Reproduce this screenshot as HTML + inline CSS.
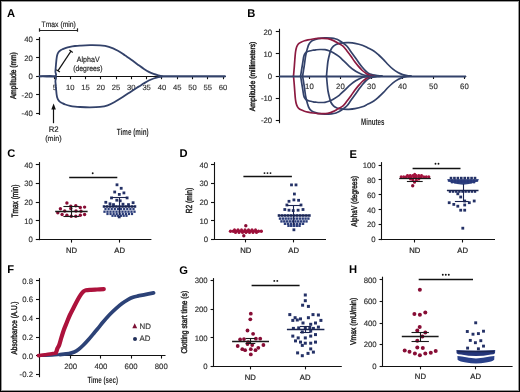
<!DOCTYPE html>
<html><head><meta charset="utf-8"><style>
html,body{margin:0;padding:0;background:#fff;}
#fig{position:relative;width:520px;height:392px;overflow:hidden;background:#fff;}
svg{position:absolute;left:0;top:0;font-family:"Liberation Sans", sans-serif;will-change:transform;text-rendering:geometricPrecision;}
</style></head><body><div id="fig">
<svg width="520" height="392" viewBox="0 0 520 392">
<rect x="0" y="0" width="520" height="392" fill="#fff"/>
<text x="7.1" y="16.9" font-size="11.2" text-anchor="start" fill="#000" font-weight="bold">A</text>
<text x="247.2" y="16.9" font-size="11.2" text-anchor="start" fill="#000" font-weight="bold">B</text>
<text x="7.2" y="157.3" font-size="11.2" text-anchor="start" fill="#000" font-weight="bold">C</text>
<text x="179.6" y="157.3" font-size="11.2" text-anchor="start" fill="#000" font-weight="bold">D</text>
<text x="349.6" y="157.5" font-size="11.2" text-anchor="start" fill="#000" font-weight="bold">E</text>
<text x="7.2" y="273.2" font-size="11.2" text-anchor="start" fill="#000" font-weight="bold">F</text>
<text x="179.2" y="273.5" font-size="11.2" text-anchor="start" fill="#000" font-weight="bold">G</text>
<text x="348.9" y="273.2" font-size="11.2" text-anchor="start" fill="#000" font-weight="bold">H</text>
<line x1="39.5" y1="37.1" x2="39.5" y2="115" stroke="#111" stroke-width="1.2"/>
<line x1="36.1" y1="39.5" x2="39.3" y2="39.5" stroke="#111" stroke-width="1.1"/>
<text x="32.9" y="42.4" font-size="7.8" text-anchor="end" fill="#333" font-weight="normal" stroke="#333" stroke-width="0.15">40</text>
<line x1="36.1" y1="57.5" x2="39.3" y2="57.5" stroke="#111" stroke-width="1.1"/>
<text x="32.9" y="60.8" font-size="7.8" text-anchor="end" fill="#333" font-weight="normal" stroke="#333" stroke-width="0.15">20</text>
<line x1="36.1" y1="76.5" x2="39.3" y2="76.5" stroke="#111" stroke-width="1.1"/>
<text x="32.9" y="79.2" font-size="7.8" text-anchor="end" fill="#333" font-weight="normal" stroke="#333" stroke-width="0.15">0</text>
<line x1="36.1" y1="94.5" x2="39.3" y2="94.5" stroke="#111" stroke-width="1.1"/>
<text x="32.9" y="97.6" font-size="7.8" text-anchor="end" fill="#333" font-weight="normal" stroke="#333" stroke-width="0.15">-20</text>
<line x1="36.1" y1="113.5" x2="39.3" y2="113.5" stroke="#111" stroke-width="1.1"/>
<text x="32.9" y="116" font-size="7.8" text-anchor="end" fill="#333" font-weight="normal" stroke="#333" stroke-width="0.15">-40</text>
<line x1="39.3" y1="76.5" x2="226" y2="76.5" stroke="#111" stroke-width="1.1"/>
<line x1="54.5" y1="76.3" x2="54.5" y2="79.2" stroke="#111" stroke-width="1.1"/>
<text x="54.98" y="89.6" font-size="7.6" text-anchor="middle" fill="#333" font-weight="normal" stroke="#333" stroke-width="0.15">5</text>
<line x1="70.5" y1="76.3" x2="70.5" y2="79.2" stroke="#111" stroke-width="1.1"/>
<text x="70.25" y="89.6" font-size="7.6" text-anchor="middle" fill="#333" font-weight="normal" stroke="#333" stroke-width="0.15">10</text>
<line x1="85.5" y1="76.3" x2="85.5" y2="79.2" stroke="#111" stroke-width="1.1"/>
<text x="85.53" y="89.6" font-size="7.6" text-anchor="middle" fill="#333" font-weight="normal" stroke="#333" stroke-width="0.15">15</text>
<line x1="100.5" y1="76.3" x2="100.5" y2="79.2" stroke="#111" stroke-width="1.1"/>
<text x="100.8" y="89.6" font-size="7.6" text-anchor="middle" fill="#333" font-weight="normal" stroke="#333" stroke-width="0.15">20</text>
<line x1="116.5" y1="76.3" x2="116.5" y2="79.2" stroke="#111" stroke-width="1.1"/>
<text x="116.08" y="89.6" font-size="7.6" text-anchor="middle" fill="#333" font-weight="normal" stroke="#333" stroke-width="0.15">25</text>
<line x1="131.5" y1="76.3" x2="131.5" y2="79.2" stroke="#111" stroke-width="1.1"/>
<text x="131.35" y="89.6" font-size="7.6" text-anchor="middle" fill="#333" font-weight="normal" stroke="#333" stroke-width="0.15">30</text>
<line x1="146.5" y1="76.3" x2="146.5" y2="79.2" stroke="#111" stroke-width="1.1"/>
<text x="146.62" y="89.6" font-size="7.6" text-anchor="middle" fill="#333" font-weight="normal" stroke="#333" stroke-width="0.15">35</text>
<line x1="161.5" y1="76.3" x2="161.5" y2="79.2" stroke="#111" stroke-width="1.1"/>
<text x="161.9" y="89.6" font-size="7.6" text-anchor="middle" fill="#333" font-weight="normal" stroke="#333" stroke-width="0.15">40</text>
<line x1="177.5" y1="76.3" x2="177.5" y2="79.2" stroke="#111" stroke-width="1.1"/>
<text x="177.18" y="89.6" font-size="7.6" text-anchor="middle" fill="#333" font-weight="normal" stroke="#333" stroke-width="0.15">45</text>
<line x1="192.5" y1="76.3" x2="192.5" y2="79.2" stroke="#111" stroke-width="1.1"/>
<text x="192.45" y="89.6" font-size="7.6" text-anchor="middle" fill="#333" font-weight="normal" stroke="#333" stroke-width="0.15">50</text>
<line x1="207.5" y1="76.3" x2="207.5" y2="79.2" stroke="#111" stroke-width="1.1"/>
<text x="207.73" y="89.6" font-size="7.6" text-anchor="middle" fill="#333" font-weight="normal" stroke="#333" stroke-width="0.15">55</text>
<line x1="223.5" y1="76.3" x2="223.5" y2="79.2" stroke="#111" stroke-width="1.1"/>
<text x="223" y="89.6" font-size="7.6" text-anchor="middle" fill="#333" font-weight="normal" stroke="#333" stroke-width="0.15">60</text>
<path d="M39.5,76.3 C42.05,76.3 52.15,77.13 54.8,76.3 C57.45,75.47 55.2,73.3 55.4,71.3 C55.6,69.3 55.8,66.47 56,64.3 C56.2,62.13 56.38,59.88 56.6,58.3 C56.82,56.72 56.98,55.8 57.3,54.8 C57.62,53.8 58.05,52.98 58.5,52.3 C58.95,51.62 59.33,51.2 60,50.7 C60.67,50.2 61.62,49.73 62.5,49.3 C63.38,48.87 64.05,48.52 65.3,48.1 C66.55,47.68 68.38,47.15 70,46.8 C71.62,46.45 73.33,46.2 75,46 C76.67,45.8 77.5,45.73 80,45.6 C82.5,45.47 86.67,45.23 90,45.2 C93.33,45.17 96.85,45.13 100,45.4 C103.15,45.67 105.92,45.92 108.9,46.8 C111.88,47.68 115.25,49.28 117.9,50.7 C120.55,52.12 122.85,54.02 124.8,55.3 C126.75,56.58 128,57.28 129.6,58.4 C131.2,59.52 132.8,60.8 134.4,62 C136,63.2 137.6,64.43 139.2,65.6 C140.8,66.77 142.4,67.95 144,69 C145.6,70.05 147.2,71.08 148.8,71.9 C150.4,72.72 151.98,73.33 153.6,73.9 C155.22,74.47 157.05,74.93 158.5,75.3 C159.95,75.67 161.05,75.93 162.3,76.1 C163.55,76.27 155.55,76.27 166,76.3 C176.45,76.33 215.17,76.3 225,76.3" fill="none" stroke="#33426a" stroke-width="1.8" stroke-linejoin="round" stroke-linecap="round"/>
<path d="M39.5,76.3 C42.05,76.3 52.15,75.47 54.8,76.3 C57.45,77.13 55.2,79.3 55.4,81.3 C55.6,83.3 55.8,86.13 56,88.3 C56.2,90.47 56.38,92.72 56.6,94.3 C56.82,95.88 56.98,96.8 57.3,97.8 C57.62,98.8 58.05,99.62 58.5,100.3 C58.95,100.98 59.33,101.4 60,101.9 C60.67,102.4 61.62,102.87 62.5,103.3 C63.38,103.73 64.05,104.08 65.3,104.5 C66.55,104.92 68.38,105.45 70,105.8 C71.62,106.15 73.33,106.4 75,106.6 C76.67,106.8 77.5,106.88 80,107 C82.5,107.12 86.67,107.32 90,107.3 C93.33,107.28 97.05,107.23 100,106.9 C102.95,106.57 105.13,106.2 107.7,105.3 C110.27,104.4 112.83,102.92 115.4,101.5 C117.97,100.08 120.53,98.43 123.1,96.8 C125.67,95.17 128.5,93.22 130.8,91.7 C133.1,90.18 135.37,88.67 136.9,87.7 C138.43,86.73 138.82,86.63 140,85.9 C141.18,85.17 142.53,84.2 144,83.3 C145.47,82.4 147.2,81.3 148.8,80.5 C150.4,79.7 151.98,79.05 153.6,78.5 C155.22,77.95 157.05,77.53 158.5,77.2 C159.95,76.87 161.05,76.65 162.3,76.5 C163.55,76.35 155.55,76.33 166,76.3 C176.45,76.27 215.17,76.3 225,76.3" fill="none" stroke="#33426a" stroke-width="1.8" stroke-linejoin="round" stroke-linecap="round"/>
<line x1="39.4" y1="30.5" x2="77.75" y2="30.5" stroke="#222" stroke-width="1.2"/>
<line x1="39.5" y1="28.3" x2="39.5" y2="31.7" stroke="#222" stroke-width="1.2"/>
<line x1="77.5" y1="28.3" x2="77.5" y2="31.7" stroke="#222" stroke-width="1.2"/>
<text x="41.6" y="27.1" font-size="8" text-anchor="start" fill="#2a2a2a" font-weight="normal" textLength="34.2" lengthAdjust="spacingAndGlyphs" stroke="#2a2a2a" stroke-width="0.2">Tmax (min)</text>
<line x1="57.9" y1="70.8" x2="71" y2="51.1" stroke="#111" stroke-width="1.2"/>
<line x1="69.4" y1="50" x2="72.8" y2="52.4" stroke="#111" stroke-width="1.2"/>
<line x1="56.3" y1="69.7" x2="59.9" y2="72" stroke="#111" stroke-width="1.2"/>
<text x="76.8" y="62" font-size="7.7" text-anchor="start" fill="#2a2a2a" font-weight="normal" textLength="22.8" lengthAdjust="spacingAndGlyphs" stroke="#2a2a2a" stroke-width="0.2">AlphaV</text>
<text x="73.2" y="71.1" font-size="7.7" text-anchor="start" fill="#2a2a2a" font-weight="normal" textLength="29.4" lengthAdjust="spacingAndGlyphs" stroke="#2a2a2a" stroke-width="0.2">(degrees)</text>
<line x1="53.5" y1="108" x2="53.5" y2="123.2" stroke="#111" stroke-width="1.2"/>
<path d="M53.6,103.4 L51.3,109.6 L55.9,109.6 Z" fill="#111"/>
<text x="48.7" y="131.8" font-size="8" text-anchor="start" fill="#2a2a2a" font-weight="normal" textLength="9.9" lengthAdjust="spacingAndGlyphs" stroke="#2a2a2a" stroke-width="0.2">R2</text>
<text x="45.2" y="141" font-size="7.7" text-anchor="start" fill="#2a2a2a" font-weight="normal" textLength="16.5" lengthAdjust="spacingAndGlyphs" stroke="#2a2a2a" stroke-width="0.2">(min)</text>
<text x="116.8" y="135.2" font-size="9.2" text-anchor="start" fill="#2a2a2a" font-weight="bold" textLength="31.8" lengthAdjust="spacingAndGlyphs">Time (min)</text>
<text transform="translate(15.7,75.7) rotate(-90)" font-size="8.4" text-anchor="middle" fill="#222" stroke="#222" stroke-width="0.45" font-weight="normal" textLength="46.8" lengthAdjust="spacingAndGlyphs">Amplitude (mm)</text>
<line x1="279.5" y1="28.8" x2="279.5" y2="123.2" stroke="#111" stroke-width="1.1"/>
<line x1="275.8" y1="31.5" x2="279" y2="31.5" stroke="#111" stroke-width="1.1"/>
<text x="272.2" y="34.6" font-size="7.8" text-anchor="end" fill="#333" font-weight="normal" stroke="#333" stroke-width="0.15">20</text>
<line x1="275.8" y1="53.5" x2="279" y2="53.5" stroke="#111" stroke-width="1.1"/>
<text x="272.2" y="56.7" font-size="7.8" text-anchor="end" fill="#333" font-weight="normal" stroke="#333" stroke-width="0.15">10</text>
<line x1="275.8" y1="76.5" x2="279" y2="76.5" stroke="#111" stroke-width="1.1"/>
<text x="272.2" y="78.8" font-size="7.8" text-anchor="end" fill="#333" font-weight="normal" stroke="#333" stroke-width="0.15">0</text>
<line x1="275.8" y1="98.5" x2="279" y2="98.5" stroke="#111" stroke-width="1.1"/>
<text x="272.2" y="100.9" font-size="7.8" text-anchor="end" fill="#333" font-weight="normal" stroke="#333" stroke-width="0.15">-10</text>
<line x1="275.8" y1="120.5" x2="279" y2="120.5" stroke="#111" stroke-width="1.1"/>
<text x="272.2" y="123" font-size="7.8" text-anchor="end" fill="#333" font-weight="normal" stroke="#333" stroke-width="0.15">-20</text>
<line x1="279" y1="76.5" x2="466.3" y2="76.5" stroke="#111" stroke-width="1.1"/>
<line x1="309.5" y1="76" x2="309.5" y2="79" stroke="#111" stroke-width="1.1"/>
<text x="309.4" y="89.3" font-size="7.8" text-anchor="middle" fill="#333" font-weight="normal" stroke="#333" stroke-width="0.15">10</text>
<line x1="340.5" y1="76" x2="340.5" y2="79" stroke="#111" stroke-width="1.1"/>
<text x="340.4" y="89.3" font-size="7.8" text-anchor="middle" fill="#333" font-weight="normal" stroke="#333" stroke-width="0.15">20</text>
<line x1="371.5" y1="76" x2="371.5" y2="79" stroke="#111" stroke-width="1.1"/>
<text x="371.4" y="89.3" font-size="7.8" text-anchor="middle" fill="#333" font-weight="normal" stroke="#333" stroke-width="0.15">30</text>
<line x1="402.5" y1="76" x2="402.5" y2="79" stroke="#111" stroke-width="1.1"/>
<text x="402.4" y="89.3" font-size="7.8" text-anchor="middle" fill="#333" font-weight="normal" stroke="#333" stroke-width="0.15">40</text>
<line x1="433.5" y1="76" x2="433.5" y2="79" stroke="#111" stroke-width="1.1"/>
<text x="433.4" y="89.3" font-size="7.8" text-anchor="middle" fill="#333" font-weight="normal" stroke="#333" stroke-width="0.15">50</text>
<line x1="464.5" y1="76" x2="464.5" y2="79" stroke="#111" stroke-width="1.1"/>
<text x="464.4" y="89.3" font-size="7.8" text-anchor="middle" fill="#333" font-weight="normal" stroke="#333" stroke-width="0.15">60</text>
<path d="M302.6,76 C302.73,75.17 303.13,72.67 303.4,71 C303.67,69.33 303.95,67.67 304.2,66 C304.45,64.33 304.67,62.67 304.9,61 C305.13,59.33 305.33,57.5 305.6,56 C305.87,54.5 306.2,53.23 306.5,52 C306.8,50.77 307.02,49.85 307.4,48.6 C307.78,47.35 308.15,45.72 308.8,44.5 C309.45,43.28 310.43,42.05 311.3,41.3 C312.17,40.55 312.88,40.43 314,40 C315.12,39.57 316.18,39.07 318,38.7 C319.82,38.33 322.65,37.9 324.9,37.8 C327.15,37.7 329.65,37.9 331.5,38.1 C333.35,38.3 334.72,38.62 336,39 C337.28,39.38 338.03,39.73 339.2,40.4 C340.37,41.07 341.7,42.03 343,43 C344.3,43.97 345.7,44.78 347,46.2 C348.3,47.62 349.53,49.75 350.8,51.5 C352.07,53.25 353.32,54.92 354.6,56.7 C355.88,58.48 357.22,60.43 358.5,62.2 C359.78,63.97 361.02,65.75 362.3,67.3 C363.58,68.85 364.92,70.38 366.2,71.5 C367.48,72.62 368.08,73.32 370,74 C371.92,74.68 375.7,75.27 377.7,75.6 C379.7,75.93 381.28,75.93 382,76" fill="none" stroke="#33426a" stroke-width="1.7" stroke-linejoin="round" stroke-linecap="round"/>
<path d="M302.6,76 C302.73,76.83 303.13,79.33 303.4,81 C303.67,82.67 303.95,84.33 304.2,86 C304.45,87.67 304.67,89.33 304.9,91 C305.13,92.67 305.33,94.5 305.6,96 C305.87,97.5 306.2,98.77 306.5,100 C306.8,101.23 307.02,102.15 307.4,103.4 C307.78,104.65 308.15,106.28 308.8,107.5 C309.45,108.72 310.43,109.95 311.3,110.7 C312.17,111.45 312.88,111.57 314,112 C315.12,112.43 316.18,112.93 318,113.3 C319.82,113.67 322.65,114.1 324.9,114.2 C327.15,114.3 329.65,114.1 331.5,113.9 C333.35,113.7 334.72,113.38 336,113 C337.28,112.62 338.03,112.27 339.2,111.6 C340.37,110.93 341.7,109.97 343,109 C344.3,108.03 345.7,107.22 347,105.8 C348.3,104.38 349.53,102.25 350.8,100.5 C352.07,98.75 353.32,97.08 354.6,95.3 C355.88,93.52 357.22,91.57 358.5,89.8 C359.78,88.03 361.02,86.25 362.3,84.7 C363.58,83.15 364.92,81.62 366.2,80.5 C367.48,79.38 368.08,78.68 370,78 C371.92,77.32 375.7,76.73 377.7,76.4 C379.7,76.07 381.28,76.07 382,76" fill="none" stroke="#33426a" stroke-width="1.7" stroke-linejoin="round" stroke-linecap="round"/>
<path d="M300.6,76 C300.73,75.17 301.13,72.67 301.4,71 C301.67,69.33 301.93,67.67 302.2,66 C302.47,64.33 302.75,62.55 303,61 C303.25,59.45 303.43,57.85 303.7,56.7 C303.97,55.55 304.18,54.83 304.6,54.1 C305.02,53.37 305.42,52.82 306.2,52.3 C306.98,51.78 308.17,51.35 309.3,51 C310.43,50.65 311.88,50.4 313,50.2 C314.12,50 314.83,49.92 316,49.8 C317.17,49.68 318.5,49.52 320,49.5 C321.5,49.48 323.4,49.45 325,49.7 C326.6,49.95 328.22,50.48 329.6,51 C330.98,51.52 331.7,51.85 333.3,52.8 C334.9,53.75 337.42,55.3 339.2,56.7 C340.98,58.1 342.4,59.68 344,61.2 C345.6,62.72 347.22,64.37 348.8,65.8 C350.38,67.23 351.88,68.63 353.5,69.8 C355.12,70.97 356.92,71.97 358.5,72.8 C360.08,73.63 361.42,74.32 363,74.8 C364.58,75.28 366.5,75.5 368,75.7 C369.5,75.9 371.33,75.95 372,76" fill="none" stroke="#33426a" stroke-width="1.7" stroke-linejoin="round" stroke-linecap="round"/>
<path d="M300.6,76 C300.73,76.83 301.13,79.33 301.4,81 C301.67,82.67 301.93,84.33 302.2,86 C302.47,87.67 302.75,89.45 303,91 C303.25,92.55 303.43,94.15 303.7,95.3 C303.97,96.45 304.18,97.17 304.6,97.9 C305.02,98.63 305.42,99.18 306.2,99.7 C306.98,100.22 308.17,100.65 309.3,101 C310.43,101.35 311.88,101.6 313,101.8 C314.12,102 314.83,102.08 316,102.2 C317.17,102.32 318.5,102.48 320,102.5 C321.5,102.52 323.4,102.55 325,102.3 C326.6,102.05 328.22,101.52 329.6,101 C330.98,100.48 331.7,100.15 333.3,99.2 C334.9,98.25 337.42,96.7 339.2,95.3 C340.98,93.9 342.4,92.32 344,90.8 C345.6,89.28 347.22,87.63 348.8,86.2 C350.38,84.77 351.88,83.37 353.5,82.2 C355.12,81.03 356.92,80.03 358.5,79.2 C360.08,78.37 361.42,77.68 363,77.2 C364.58,76.72 366.5,76.5 368,76.3 C369.5,76.1 371.33,76.05 372,76" fill="none" stroke="#33426a" stroke-width="1.7" stroke-linejoin="round" stroke-linecap="round"/>
<path d="M326.5,76 C326.62,74.67 326.95,70.5 327.2,68 C327.45,65.5 327.6,63.33 328,61 C328.4,58.67 329.1,55.92 329.6,54 C330.1,52.08 330.35,50.8 331,49.5 C331.65,48.2 332.67,47.03 333.5,46.2 C334.33,45.37 335.05,44.98 336,44.5 C336.95,44.02 338.03,43.58 339.2,43.3 C340.37,43.02 341.4,42.9 343,42.8 C344.6,42.7 346.8,42.62 348.8,42.7 C350.8,42.78 352.75,42.88 355,43.3 C357.25,43.72 360.13,44.42 362.3,45.2 C364.47,45.98 366.08,47.03 368,48 C369.92,48.97 372.02,49.83 373.8,51 C375.58,52.17 377.08,53.57 378.7,55 C380.32,56.43 381.95,58.02 383.5,59.6 C385.05,61.18 386.42,62.9 388,64.5 C389.58,66.1 391.33,67.87 393,69.2 C394.67,70.53 396.38,71.6 398,72.5 C399.62,73.4 401.2,74.07 402.7,74.6 C404.2,75.13 405.62,75.47 407,75.7 C408.38,75.93 410.33,75.95 411,76" fill="none" stroke="#33426a" stroke-width="1.7" stroke-linejoin="round" stroke-linecap="round"/>
<path d="M326.5,76 C326.62,77.33 326.95,81.5 327.2,84 C327.45,86.5 327.6,88.67 328,91 C328.4,93.33 329.1,96.08 329.6,98 C330.1,99.92 330.35,101.2 331,102.5 C331.65,103.8 332.67,104.97 333.5,105.8 C334.33,106.63 335.05,107.02 336,107.5 C336.95,107.98 338.03,108.42 339.2,108.7 C340.37,108.98 341.4,109.1 343,109.2 C344.6,109.3 346.8,109.38 348.8,109.3 C350.8,109.22 352.75,109.12 355,108.7 C357.25,108.28 360.13,107.58 362.3,106.8 C364.47,106.02 366.08,104.97 368,104 C369.92,103.03 372.02,102.17 373.8,101 C375.58,99.83 377.08,98.43 378.7,97 C380.32,95.57 381.95,93.98 383.5,92.4 C385.05,90.82 386.42,89.1 388,87.5 C389.58,85.9 391.33,84.13 393,82.8 C394.67,81.47 396.38,80.4 398,79.5 C399.62,78.6 401.2,77.93 402.7,77.4 C404.2,76.87 405.62,76.53 407,76.3 C408.38,76.07 410.33,76.05 411,76" fill="none" stroke="#33426a" stroke-width="1.7" stroke-linejoin="round" stroke-linecap="round"/>
<path d="M293.5,76 C293.62,74.67 293.98,70.67 294.2,68 C294.42,65.33 294.6,62.5 294.8,60 C295,57.5 295.17,54.92 295.4,53 C295.63,51.08 295.87,49.77 296.2,48.5 C296.53,47.23 296.93,46.25 297.4,45.4 C297.87,44.55 298.4,43.93 299,43.4 C299.6,42.87 300.08,42.63 301,42.2 C301.92,41.77 303.33,41.18 304.5,40.8 C305.67,40.42 306.58,40.2 308,39.9 C309.42,39.6 311.33,39.25 313,39 C314.67,38.75 316.5,38.52 318,38.4 C319.5,38.28 320.38,38.25 322,38.3 C323.62,38.35 325.78,38.32 327.7,38.7 C329.62,39.08 331.78,39.85 333.5,40.6 C335.22,41.35 336.42,42.27 338,43.2 C339.58,44.13 341.5,44.9 343,46.2 C344.5,47.5 345.7,49.37 347,51 C348.3,52.63 349.53,54.25 350.8,56 C352.07,57.75 353.32,59.77 354.6,61.5 C355.88,63.23 357.22,64.9 358.5,66.4 C359.78,67.9 361.02,69.32 362.3,70.5 C363.58,71.68 364.92,72.68 366.2,73.5 C367.48,74.32 368.7,74.98 370,75.4 C371.3,75.82 373.33,75.9 374,76" fill="none" stroke="#8c1a40" stroke-width="1.7" stroke-linejoin="round" stroke-linecap="round"/>
<path d="M293.5,76 C293.62,77.33 293.98,81.33 294.2,84 C294.42,86.67 294.6,89.5 294.8,92 C295,94.5 295.17,97.08 295.4,99 C295.63,100.92 295.87,102.23 296.2,103.5 C296.53,104.77 296.93,105.75 297.4,106.6 C297.87,107.45 298.4,108.07 299,108.6 C299.6,109.13 300.08,109.37 301,109.8 C301.92,110.23 303.33,110.82 304.5,111.2 C305.67,111.58 306.58,111.8 308,112.1 C309.42,112.4 311.33,112.75 313,113 C314.67,113.25 316.5,113.48 318,113.6 C319.5,113.72 320.38,113.75 322,113.7 C323.62,113.65 325.78,113.68 327.7,113.3 C329.62,112.92 331.78,112.15 333.5,111.4 C335.22,110.65 336.42,109.73 338,108.8 C339.58,107.87 341.5,107.1 343,105.8 C344.5,104.5 345.7,102.63 347,101 C348.3,99.37 349.53,97.75 350.8,96 C352.07,94.25 353.32,92.23 354.6,90.5 C355.88,88.77 357.22,87.1 358.5,85.6 C359.78,84.1 361.02,82.68 362.3,81.5 C363.58,80.32 364.92,79.32 366.2,78.5 C367.48,77.68 368.7,77.02 370,76.6 C371.3,76.18 373.33,76.1 374,76" fill="none" stroke="#8c1a40" stroke-width="1.7" stroke-linejoin="round" stroke-linecap="round"/>
<line x1="279" y1="76.5" x2="466" y2="76.5" stroke="#33426a" stroke-width="1.8"/>
<text x="361" y="124.6" font-size="9.4" text-anchor="start" fill="#2a2a2a" font-weight="bold" textLength="23.4" lengthAdjust="spacingAndGlyphs">Minutes</text>
<text transform="translate(254.6,76.4) rotate(-90)" font-size="7.8" text-anchor="middle" fill="#222" stroke="#222" stroke-width="0.45" font-weight="normal" textLength="69.6" lengthAdjust="spacingAndGlyphs">Amplitude (millimeters)</text>
<line x1="39.5" y1="162.1" x2="39.5" y2="240.2" stroke="#111" stroke-width="1.1"/>
<line x1="35.8" y1="164.5" x2="39" y2="164.5" stroke="#111" stroke-width="1.1"/>
<text x="32.9" y="167.76" font-size="7.8" text-anchor="end" fill="#333" font-weight="normal" stroke="#333" stroke-width="0.15">40</text>
<line x1="35.8" y1="183.5" x2="39" y2="183.5" stroke="#111" stroke-width="1.1"/>
<text x="32.9" y="186.42" font-size="7.8" text-anchor="end" fill="#333" font-weight="normal" stroke="#333" stroke-width="0.15">30</text>
<line x1="35.8" y1="202.5" x2="39" y2="202.5" stroke="#111" stroke-width="1.1"/>
<text x="32.9" y="205.08" font-size="7.8" text-anchor="end" fill="#333" font-weight="normal" stroke="#333" stroke-width="0.15">20</text>
<line x1="35.8" y1="220.5" x2="39" y2="220.5" stroke="#111" stroke-width="1.1"/>
<text x="32.9" y="223.74" font-size="7.8" text-anchor="end" fill="#333" font-weight="normal" stroke="#333" stroke-width="0.15">10</text>
<line x1="35.8" y1="239.5" x2="39" y2="239.5" stroke="#111" stroke-width="1.1"/>
<text x="32.9" y="242.4" font-size="7.8" text-anchor="end" fill="#333" font-weight="normal" stroke="#333" stroke-width="0.15">0</text>
<line x1="38.45" y1="239.5" x2="151.4" y2="239.5" stroke="#111" stroke-width="1.1"/>
<line x1="71.5" y1="239.6" x2="71.5" y2="242.6" stroke="#111" stroke-width="1.1"/>
<text x="71.5" y="252.6" font-size="7.7" text-anchor="middle" fill="#222" font-weight="normal" stroke="#222" stroke-width="0.2">ND</text>
<line x1="119.5" y1="239.6" x2="119.5" y2="242.6" stroke="#111" stroke-width="1.1"/>
<text x="119.6" y="252.6" font-size="7.7" text-anchor="middle" fill="#222" font-weight="normal" stroke="#222" stroke-width="0.2">AD</text>
<line x1="69.2" y1="177.5" x2="117.3" y2="177.5" stroke="#111" stroke-width="1.3"/>
<circle cx="92.7" cy="173.2" r="0.95" fill="#111"/>
<circle cx="66.9" cy="203" r="1.7" fill="#870d35"/>
<circle cx="70.8" cy="206.2" r="1.7" fill="#870d35"/>
<circle cx="75.8" cy="205.8" r="1.7" fill="#870d35"/>
<circle cx="80.3" cy="207.5" r="1.7" fill="#870d35"/>
<circle cx="84.6" cy="207.1" r="1.7" fill="#870d35"/>
<circle cx="60.4" cy="208.7" r="1.7" fill="#870d35"/>
<circle cx="57.8" cy="212.7" r="1.7" fill="#870d35"/>
<circle cx="64.7" cy="211" r="1.7" fill="#870d35"/>
<circle cx="76" cy="211" r="1.7" fill="#870d35"/>
<circle cx="62.1" cy="214.5" r="1.7" fill="#870d35"/>
<circle cx="66.9" cy="215.3" r="1.7" fill="#870d35"/>
<circle cx="71.2" cy="216.2" r="1.7" fill="#870d35"/>
<circle cx="75.8" cy="216.2" r="1.7" fill="#870d35"/>
<circle cx="80.3" cy="215.3" r="1.7" fill="#870d35"/>
<circle cx="84.6" cy="214.5" r="1.7" fill="#870d35"/>
<circle cx="70.8" cy="208.6" r="1.7" fill="#870d35"/>
<circle cx="81" cy="211.2" r="1.7" fill="#870d35"/>
<line x1="55.2" y1="211.5" x2="87.6" y2="211.5" stroke="#1a1a1a" stroke-width="1.4"/>
<line x1="71.5" y1="206.2" x2="71.5" y2="216" stroke="#1a1a1a" stroke-width="1.1"/>
<line x1="63.4" y1="206.5" x2="79.4" y2="206.5" stroke="#1a1a1a" stroke-width="1.1"/>
<line x1="63.4" y1="216.5" x2="79.4" y2="216.5" stroke="#1a1a1a" stroke-width="1.1"/>
<rect x="102.75" y="205.25" width="2.5" height="2.5" fill="#243166"/>
<rect x="105.85" y="205.25" width="2.5" height="2.5" fill="#243166"/>
<rect x="108.95" y="205.25" width="2.5" height="2.5" fill="#243166"/>
<rect x="112.05" y="205.25" width="2.5" height="2.5" fill="#243166"/>
<rect x="115.15" y="205.25" width="2.5" height="2.5" fill="#243166"/>
<rect x="118.25" y="205.25" width="2.5" height="2.5" fill="#243166"/>
<rect x="121.35" y="205.25" width="2.5" height="2.5" fill="#243166"/>
<rect x="124.45" y="205.25" width="2.5" height="2.5" fill="#243166"/>
<rect x="127.55" y="205.25" width="2.5" height="2.5" fill="#243166"/>
<rect x="130.65" y="205.25" width="2.5" height="2.5" fill="#243166"/>
<rect x="133.75" y="205.25" width="2.5" height="2.5" fill="#243166"/>
<rect x="104.4" y="208" width="2.2" height="2.2" fill="#2b3d7a"/>
<rect x="107.51" y="208" width="2.2" height="2.2" fill="#2b3d7a"/>
<rect x="110.62" y="208" width="2.2" height="2.2" fill="#2b3d7a"/>
<rect x="113.73" y="208" width="2.2" height="2.2" fill="#2b3d7a"/>
<rect x="116.84" y="208" width="2.2" height="2.2" fill="#2b3d7a"/>
<rect x="119.96" y="208" width="2.2" height="2.2" fill="#2b3d7a"/>
<rect x="123.07" y="208" width="2.2" height="2.2" fill="#2b3d7a"/>
<rect x="126.18" y="208" width="2.2" height="2.2" fill="#2b3d7a"/>
<rect x="129.29" y="208" width="2.2" height="2.2" fill="#2b3d7a"/>
<rect x="132.4" y="208" width="2.2" height="2.2" fill="#2b3d7a"/>
<rect x="103.35" y="210.55" width="2.3" height="2.3" fill="#2b3d7a"/>
<rect x="106.35" y="210.55" width="2.3" height="2.3" fill="#2b3d7a"/>
<rect x="109.35" y="210.55" width="2.3" height="2.3" fill="#2b3d7a"/>
<rect x="112.35" y="210.55" width="2.3" height="2.3" fill="#2b3d7a"/>
<rect x="115.35" y="210.55" width="2.3" height="2.3" fill="#2b3d7a"/>
<rect x="118.35" y="210.55" width="2.3" height="2.3" fill="#2b3d7a"/>
<rect x="121.35" y="210.55" width="2.3" height="2.3" fill="#2b3d7a"/>
<rect x="124.35" y="210.55" width="2.3" height="2.3" fill="#2b3d7a"/>
<rect x="127.35" y="210.55" width="2.3" height="2.3" fill="#2b3d7a"/>
<rect x="130.35" y="210.55" width="2.3" height="2.3" fill="#2b3d7a"/>
<rect x="133.35" y="210.55" width="2.3" height="2.3" fill="#2b3d7a"/>
<rect x="106.4" y="212.9" width="2.2" height="2.2" fill="#2b3d7a"/>
<rect x="109.46" y="212.9" width="2.2" height="2.2" fill="#2b3d7a"/>
<rect x="112.53" y="212.9" width="2.2" height="2.2" fill="#2b3d7a"/>
<rect x="115.59" y="212.9" width="2.2" height="2.2" fill="#2b3d7a"/>
<rect x="118.65" y="212.9" width="2.2" height="2.2" fill="#2b3d7a"/>
<rect x="121.71" y="212.9" width="2.2" height="2.2" fill="#2b3d7a"/>
<rect x="124.78" y="212.9" width="2.2" height="2.2" fill="#2b3d7a"/>
<rect x="127.84" y="212.9" width="2.2" height="2.2" fill="#2b3d7a"/>
<rect x="130.9" y="212.9" width="2.2" height="2.2" fill="#2b3d7a"/>
<rect x="111.4" y="214.7" width="2.2" height="2.2" fill="#2b3d7a"/>
<rect x="114.2" y="214.7" width="2.2" height="2.2" fill="#2b3d7a"/>
<rect x="117" y="214.7" width="2.2" height="2.2" fill="#2b3d7a"/>
<rect x="119.8" y="214.7" width="2.2" height="2.2" fill="#2b3d7a"/>
<rect x="122.6" y="214.7" width="2.2" height="2.2" fill="#2b3d7a"/>
<rect x="125.4" y="214.7" width="2.2" height="2.2" fill="#2b3d7a"/>
<rect x="117.8" y="215.5" width="2.8" height="2.8" fill="#243166"/>
<rect x="115.6" y="183.4" width="2.8" height="2.8" fill="#243166"/>
<rect x="119.8" y="186.9" width="2.8" height="2.8" fill="#243166"/>
<rect x="113.3" y="190.6" width="2.8" height="2.8" fill="#243166"/>
<rect x="117.9" y="193" width="2.8" height="2.8" fill="#243166"/>
<rect x="122.5" y="191.5" width="2.8" height="2.8" fill="#243166"/>
<rect x="110.1" y="196.5" width="2.8" height="2.8" fill="#243166"/>
<rect x="125.7" y="196.5" width="2.8" height="2.8" fill="#243166"/>
<rect x="115.4" y="198.8" width="2.8" height="2.8" fill="#243166"/>
<rect x="118.8" y="199.4" width="2.8" height="2.8" fill="#243166"/>
<rect x="104.4" y="200.9" width="2.8" height="2.8" fill="#243166"/>
<rect x="131.7" y="201.3" width="2.8" height="2.8" fill="#243166"/>
<rect x="108.6" y="202.4" width="2.8" height="2.8" fill="#243166"/>
<rect x="112.1" y="203.2" width="2.8" height="2.8" fill="#243166"/>
<rect x="121.6" y="202.8" width="2.8" height="2.8" fill="#243166"/>
<rect x="127.1" y="203.2" width="2.8" height="2.8" fill="#243166"/>
<line x1="103.5" y1="206.5" x2="135.4" y2="206.5" stroke="#1b2550" stroke-width="1.4"/>
<line x1="119.5" y1="197.9" x2="119.5" y2="215" stroke="#1b2550" stroke-width="1.1"/>
<line x1="111.5" y1="197.5" x2="127.3" y2="197.5" stroke="#1b2550" stroke-width="1.1"/>
<text transform="translate(18,201) rotate(-90)" font-size="9.3" text-anchor="middle" fill="#222" stroke="#222" stroke-width="0.45" font-weight="normal" textLength="32.8" lengthAdjust="spacingAndGlyphs">Tmax (min)</text>
<line x1="214.5" y1="162.1" x2="214.5" y2="240" stroke="#111" stroke-width="1.1"/>
<line x1="211" y1="164.5" x2="214.2" y2="164.5" stroke="#111" stroke-width="1.1"/>
<text x="208.1" y="167.56" font-size="7.8" text-anchor="end" fill="#333" font-weight="normal" stroke="#333" stroke-width="0.15">40</text>
<line x1="211" y1="183.5" x2="214.2" y2="183.5" stroke="#111" stroke-width="1.1"/>
<text x="208.1" y="186.22" font-size="7.8" text-anchor="end" fill="#333" font-weight="normal" stroke="#333" stroke-width="0.15">30</text>
<line x1="211" y1="202.5" x2="214.2" y2="202.5" stroke="#111" stroke-width="1.1"/>
<text x="208.1" y="204.88" font-size="7.8" text-anchor="end" fill="#333" font-weight="normal" stroke="#333" stroke-width="0.15">20</text>
<line x1="211" y1="220.5" x2="214.2" y2="220.5" stroke="#111" stroke-width="1.1"/>
<text x="208.1" y="223.54" font-size="7.8" text-anchor="end" fill="#333" font-weight="normal" stroke="#333" stroke-width="0.15">10</text>
<line x1="211" y1="239.5" x2="214.2" y2="239.5" stroke="#111" stroke-width="1.1"/>
<text x="208.1" y="242.2" font-size="7.8" text-anchor="end" fill="#333" font-weight="normal" stroke="#333" stroke-width="0.15">0</text>
<line x1="213.65" y1="239.5" x2="326" y2="239.5" stroke="#111" stroke-width="1.1"/>
<line x1="245.5" y1="239.4" x2="245.5" y2="242.4" stroke="#111" stroke-width="1.1"/>
<text x="245.7" y="252.6" font-size="7.7" text-anchor="middle" fill="#222" font-weight="normal" stroke="#222" stroke-width="0.2">ND</text>
<line x1="293.5" y1="239.4" x2="293.5" y2="242.4" stroke="#111" stroke-width="1.1"/>
<text x="293.7" y="252.6" font-size="7.7" text-anchor="middle" fill="#222" font-weight="normal" stroke="#222" stroke-width="0.2">AD</text>
<line x1="243.4" y1="176.5" x2="291.9" y2="176.5" stroke="#111" stroke-width="1.3"/>
<circle cx="264.5" cy="173.1" r="0.95" fill="#111"/>
<circle cx="267.5" cy="173.1" r="0.95" fill="#111"/>
<circle cx="270.5" cy="173.1" r="0.95" fill="#111"/>
<line x1="232" y1="231.5" x2="259.5" y2="231.5" stroke="#222" stroke-width="1.2"/>
<circle cx="230.5" cy="231.2" r="1.7" fill="#9e113b"/>
<circle cx="233.3" cy="231.2" r="1.7" fill="#9e113b"/>
<circle cx="236.1" cy="231.2" r="1.7" fill="#9e113b"/>
<circle cx="238.9" cy="231.2" r="1.7" fill="#9e113b"/>
<circle cx="241.7" cy="231.2" r="1.7" fill="#9e113b"/>
<circle cx="244.5" cy="231.2" r="1.7" fill="#9e113b"/>
<circle cx="247.3" cy="231.2" r="1.7" fill="#9e113b"/>
<circle cx="250.1" cy="231.2" r="1.7" fill="#9e113b"/>
<circle cx="252.9" cy="231.2" r="1.7" fill="#9e113b"/>
<circle cx="255.7" cy="231.2" r="1.7" fill="#9e113b"/>
<circle cx="258.5" cy="231.2" r="1.7" fill="#9e113b"/>
<circle cx="261.3" cy="231.2" r="1.7" fill="#9e113b"/>
<circle cx="234.5" cy="229.8" r="1.5" fill="#9e113b"/>
<circle cx="238" cy="229.8" r="1.5" fill="#9e113b"/>
<circle cx="241.5" cy="229.8" r="1.5" fill="#9e113b"/>
<circle cx="245" cy="229.8" r="1.5" fill="#9e113b"/>
<circle cx="248.5" cy="229.8" r="1.5" fill="#9e113b"/>
<circle cx="252" cy="229.8" r="1.5" fill="#9e113b"/>
<circle cx="255.5" cy="229.8" r="1.5" fill="#9e113b"/>
<circle cx="235.5" cy="232.6" r="1.5" fill="#9e113b"/>
<circle cx="239" cy="232.6" r="1.5" fill="#9e113b"/>
<circle cx="242.5" cy="232.6" r="1.5" fill="#9e113b"/>
<circle cx="246" cy="232.6" r="1.5" fill="#9e113b"/>
<circle cx="249.5" cy="232.6" r="1.5" fill="#9e113b"/>
<circle cx="253" cy="232.6" r="1.5" fill="#9e113b"/>
<circle cx="256.5" cy="232.6" r="1.5" fill="#9e113b"/>
<circle cx="245.8" cy="225.8" r="1.7" fill="#870d35"/>
<circle cx="243.8" cy="235.8" r="1.7" fill="#870d35"/>
<rect x="290.1" y="183.5" width="2.8" height="2.8" fill="#243166"/>
<rect x="294.6" y="183.5" width="2.8" height="2.8" fill="#243166"/>
<rect x="293" y="192.6" width="2.8" height="2.8" fill="#243166"/>
<rect x="287.6" y="199.9" width="2.8" height="2.8" fill="#243166"/>
<rect x="292.5" y="198.5" width="2.8" height="2.8" fill="#243166"/>
<rect x="297.2" y="198.9" width="2.8" height="2.8" fill="#243166"/>
<rect x="285.5" y="203.6" width="2.8" height="2.8" fill="#243166"/>
<rect x="299.6" y="203.6" width="2.8" height="2.8" fill="#243166"/>
<rect x="283.4" y="208.1" width="2.8" height="2.8" fill="#243166"/>
<rect x="287.6" y="208.8" width="2.8" height="2.8" fill="#243166"/>
<rect x="291.8" y="209.2" width="2.8" height="2.8" fill="#243166"/>
<rect x="296.7" y="208.8" width="2.8" height="2.8" fill="#243166"/>
<rect x="301.6" y="208.1" width="2.8" height="2.8" fill="#243166"/>
<rect x="292.5" y="228.4" width="2.8" height="2.8" fill="#243166"/>
<rect x="277.7" y="214.2" width="2.6" height="2.6" fill="#243166"/>
<rect x="280.74" y="214.2" width="2.6" height="2.6" fill="#243166"/>
<rect x="283.78" y="214.2" width="2.6" height="2.6" fill="#243166"/>
<rect x="286.82" y="214.2" width="2.6" height="2.6" fill="#243166"/>
<rect x="289.86" y="214.2" width="2.6" height="2.6" fill="#243166"/>
<rect x="292.9" y="214.2" width="2.6" height="2.6" fill="#243166"/>
<rect x="295.94" y="214.2" width="2.6" height="2.6" fill="#243166"/>
<rect x="298.98" y="214.2" width="2.6" height="2.6" fill="#243166"/>
<rect x="302.02" y="214.2" width="2.6" height="2.6" fill="#243166"/>
<rect x="305.06" y="214.2" width="2.6" height="2.6" fill="#243166"/>
<rect x="308.1" y="214.2" width="2.6" height="2.6" fill="#243166"/>
<rect x="278.8" y="217.4" width="2.4" height="2.4" fill="#2b3d7a"/>
<rect x="281.64" y="217.4" width="2.4" height="2.4" fill="#2b3d7a"/>
<rect x="284.48" y="217.4" width="2.4" height="2.4" fill="#2b3d7a"/>
<rect x="287.32" y="217.4" width="2.4" height="2.4" fill="#2b3d7a"/>
<rect x="290.16" y="217.4" width="2.4" height="2.4" fill="#2b3d7a"/>
<rect x="293" y="217.4" width="2.4" height="2.4" fill="#2b3d7a"/>
<rect x="295.84" y="217.4" width="2.4" height="2.4" fill="#2b3d7a"/>
<rect x="298.68" y="217.4" width="2.4" height="2.4" fill="#2b3d7a"/>
<rect x="301.52" y="217.4" width="2.4" height="2.4" fill="#2b3d7a"/>
<rect x="304.36" y="217.4" width="2.4" height="2.4" fill="#2b3d7a"/>
<rect x="307.2" y="217.4" width="2.4" height="2.4" fill="#2b3d7a"/>
<rect x="280.3" y="220.2" width="2.4" height="2.4" fill="#2b3d7a"/>
<rect x="283.08" y="220.2" width="2.4" height="2.4" fill="#2b3d7a"/>
<rect x="285.86" y="220.2" width="2.4" height="2.4" fill="#2b3d7a"/>
<rect x="288.63" y="220.2" width="2.4" height="2.4" fill="#2b3d7a"/>
<rect x="291.41" y="220.2" width="2.4" height="2.4" fill="#2b3d7a"/>
<rect x="294.19" y="220.2" width="2.4" height="2.4" fill="#2b3d7a"/>
<rect x="296.97" y="220.2" width="2.4" height="2.4" fill="#2b3d7a"/>
<rect x="299.74" y="220.2" width="2.4" height="2.4" fill="#2b3d7a"/>
<rect x="302.52" y="220.2" width="2.4" height="2.4" fill="#2b3d7a"/>
<rect x="305.3" y="220.2" width="2.4" height="2.4" fill="#2b3d7a"/>
<rect x="283.8" y="222.6" width="2.4" height="2.4" fill="#2b3d7a"/>
<rect x="286.8" y="222.6" width="2.4" height="2.4" fill="#2b3d7a"/>
<rect x="289.8" y="222.6" width="2.4" height="2.4" fill="#2b3d7a"/>
<rect x="292.8" y="222.6" width="2.4" height="2.4" fill="#2b3d7a"/>
<rect x="295.8" y="222.6" width="2.4" height="2.4" fill="#2b3d7a"/>
<rect x="298.8" y="222.6" width="2.4" height="2.4" fill="#2b3d7a"/>
<rect x="301.8" y="222.6" width="2.4" height="2.4" fill="#2b3d7a"/>
<rect x="287.3" y="224.6" width="2.4" height="2.4" fill="#2b3d7a"/>
<rect x="290.05" y="224.6" width="2.4" height="2.4" fill="#2b3d7a"/>
<rect x="292.8" y="224.6" width="2.4" height="2.4" fill="#2b3d7a"/>
<rect x="295.55" y="224.6" width="2.4" height="2.4" fill="#2b3d7a"/>
<rect x="298.3" y="224.6" width="2.4" height="2.4" fill="#2b3d7a"/>
<line x1="278.1" y1="215.5" x2="309.4" y2="215.5" stroke="#1b2550" stroke-width="1.4"/>
<line x1="293.5" y1="205" x2="293.5" y2="225" stroke="#1b2550" stroke-width="1.1"/>
<line x1="286.9" y1="205.5" x2="301" y2="205.5" stroke="#1b2550" stroke-width="1.1"/>
<text transform="translate(191.9,200.5) rotate(-90)" font-size="8.8" text-anchor="middle" fill="#222" stroke="#222" stroke-width="0.45" font-weight="normal" textLength="25.4" lengthAdjust="spacingAndGlyphs">R2 (min)</text>
<line x1="381.5" y1="162.1" x2="381.5" y2="240.1" stroke="#111" stroke-width="1.1"/>
<line x1="378.6" y1="165.5" x2="381.8" y2="165.5" stroke="#111" stroke-width="1.1"/>
<text x="375.7" y="167.8" font-size="7.8" text-anchor="end" fill="#333" font-weight="normal" stroke="#333" stroke-width="0.15">100</text>
<line x1="378.6" y1="179.5" x2="381.8" y2="179.5" stroke="#111" stroke-width="1.1"/>
<text x="375.7" y="182.72" font-size="7.8" text-anchor="end" fill="#333" font-weight="normal" stroke="#333" stroke-width="0.15">80</text>
<line x1="378.6" y1="194.5" x2="381.8" y2="194.5" stroke="#111" stroke-width="1.1"/>
<text x="375.7" y="197.64" font-size="7.8" text-anchor="end" fill="#333" font-weight="normal" stroke="#333" stroke-width="0.15">60</text>
<line x1="378.6" y1="209.5" x2="381.8" y2="209.5" stroke="#111" stroke-width="1.1"/>
<text x="375.7" y="212.56" font-size="7.8" text-anchor="end" fill="#333" font-weight="normal" stroke="#333" stroke-width="0.15">40</text>
<line x1="378.6" y1="224.5" x2="381.8" y2="224.5" stroke="#111" stroke-width="1.1"/>
<text x="375.7" y="227.48" font-size="7.8" text-anchor="end" fill="#333" font-weight="normal" stroke="#333" stroke-width="0.15">20</text>
<line x1="378.6" y1="239.5" x2="381.8" y2="239.5" stroke="#111" stroke-width="1.1"/>
<text x="375.7" y="242.4" font-size="7.8" text-anchor="end" fill="#333" font-weight="normal" stroke="#333" stroke-width="0.15">0</text>
<line x1="381.25" y1="239.5" x2="495" y2="239.5" stroke="#111" stroke-width="1.1"/>
<line x1="414.5" y1="239.5" x2="414.5" y2="242.5" stroke="#111" stroke-width="1.1"/>
<text x="414.8" y="252.6" font-size="7.7" text-anchor="middle" fill="#222" font-weight="normal" stroke="#222" stroke-width="0.2">ND</text>
<line x1="462.5" y1="239.5" x2="462.5" y2="242.5" stroke="#111" stroke-width="1.1"/>
<text x="462.7" y="252.6" font-size="7.7" text-anchor="middle" fill="#222" font-weight="normal" stroke="#222" stroke-width="0.2">AD</text>
<line x1="412.6" y1="168.5" x2="460.5" y2="168.5" stroke="#111" stroke-width="1.3"/>
<circle cx="435.5" cy="163.8" r="0.95" fill="#111"/>
<circle cx="438.5" cy="163.8" r="0.95" fill="#111"/>
<circle cx="401.2" cy="176.7" r="1.55" fill="#a5123d"/>
<circle cx="403.71" cy="176.7" r="1.55" fill="#a5123d"/>
<circle cx="406.22" cy="176.7" r="1.55" fill="#a5123d"/>
<circle cx="408.73" cy="176.7" r="1.55" fill="#a5123d"/>
<circle cx="411.24" cy="176.7" r="1.55" fill="#a5123d"/>
<circle cx="413.75" cy="176.7" r="1.55" fill="#a5123d"/>
<circle cx="416.25" cy="176.7" r="1.55" fill="#a5123d"/>
<circle cx="418.76" cy="176.7" r="1.55" fill="#a5123d"/>
<circle cx="421.27" cy="176.7" r="1.55" fill="#a5123d"/>
<circle cx="423.78" cy="176.7" r="1.55" fill="#a5123d"/>
<circle cx="426.29" cy="176.7" r="1.55" fill="#a5123d"/>
<circle cx="428.8" cy="176.7" r="1.55" fill="#a5123d"/>
<circle cx="407.5" cy="175.4" r="1.45" fill="#a5123d"/>
<circle cx="410.3" cy="175.4" r="1.45" fill="#a5123d"/>
<circle cx="413.1" cy="175.4" r="1.45" fill="#a5123d"/>
<circle cx="415.9" cy="175.4" r="1.45" fill="#a5123d"/>
<circle cx="418.7" cy="175.4" r="1.45" fill="#a5123d"/>
<circle cx="421.5" cy="175.4" r="1.45" fill="#a5123d"/>
<circle cx="414.7" cy="174.2" r="1.5" fill="#a5123d"/>
<circle cx="412.8" cy="180" r="1.5" fill="#a5123d"/>
<circle cx="416.2" cy="180.2" r="1.5" fill="#a5123d"/>
<circle cx="414.5" cy="182.2" r="1.5" fill="#a5123d"/>
<circle cx="410.5" cy="178.9" r="1.5" fill="#a5123d"/>
<circle cx="418.8" cy="179" r="1.5" fill="#a5123d"/>
<circle cx="412.7" cy="185.7" r="1.7" fill="#870d35"/>
<line x1="399.2" y1="178.5" x2="430.8" y2="178.5" stroke="#1a1a1a" stroke-width="1.3"/>
<line x1="406.9" y1="181.5" x2="422.7" y2="181.5" stroke="#1a1a1a" stroke-width="1.1"/>
<path d="M447,179.2 L479,179.2 Q478.6,181.2 475,182.6 Q469,184.6 463,184.7 Q457,184.6 451,182.6 Q447.4,181.2 447,179.2 Z" fill="#2f4482"/>
<rect x="447.85" y="179.45" width="2.3" height="2.3" fill="#28387a"/>
<rect x="450.96" y="179.45" width="2.3" height="2.3" fill="#28387a"/>
<rect x="454.07" y="179.45" width="2.3" height="2.3" fill="#28387a"/>
<rect x="457.18" y="179.45" width="2.3" height="2.3" fill="#28387a"/>
<rect x="460.29" y="179.45" width="2.3" height="2.3" fill="#28387a"/>
<rect x="463.41" y="179.45" width="2.3" height="2.3" fill="#28387a"/>
<rect x="466.52" y="179.45" width="2.3" height="2.3" fill="#28387a"/>
<rect x="469.63" y="179.45" width="2.3" height="2.3" fill="#28387a"/>
<rect x="472.74" y="179.45" width="2.3" height="2.3" fill="#28387a"/>
<rect x="475.85" y="179.45" width="2.3" height="2.3" fill="#28387a"/>
<rect x="450.85" y="181.05" width="2.3" height="2.3" fill="#28387a"/>
<rect x="453.99" y="181.05" width="2.3" height="2.3" fill="#28387a"/>
<rect x="457.14" y="181.05" width="2.3" height="2.3" fill="#28387a"/>
<rect x="460.28" y="181.05" width="2.3" height="2.3" fill="#28387a"/>
<rect x="463.42" y="181.05" width="2.3" height="2.3" fill="#28387a"/>
<rect x="466.56" y="181.05" width="2.3" height="2.3" fill="#28387a"/>
<rect x="469.71" y="181.05" width="2.3" height="2.3" fill="#28387a"/>
<rect x="472.85" y="181.05" width="2.3" height="2.3" fill="#28387a"/>
<rect x="449.7" y="176.8" width="2.6" height="2.6" fill="#243166"/>
<rect x="453.13" y="176.8" width="2.6" height="2.6" fill="#243166"/>
<rect x="456.56" y="176.8" width="2.6" height="2.6" fill="#243166"/>
<rect x="459.99" y="176.8" width="2.6" height="2.6" fill="#243166"/>
<rect x="463.41" y="176.8" width="2.6" height="2.6" fill="#243166"/>
<rect x="466.84" y="176.8" width="2.6" height="2.6" fill="#243166"/>
<rect x="470.27" y="176.8" width="2.6" height="2.6" fill="#243166"/>
<rect x="473.7" y="176.8" width="2.6" height="2.6" fill="#243166"/>
<rect x="448.8" y="190.4" width="2.4" height="2.4" fill="#243166"/>
<rect x="451.93" y="190.4" width="2.4" height="2.4" fill="#243166"/>
<rect x="455.05" y="190.4" width="2.4" height="2.4" fill="#243166"/>
<rect x="458.18" y="190.4" width="2.4" height="2.4" fill="#243166"/>
<rect x="461.3" y="190.4" width="2.4" height="2.4" fill="#243166"/>
<rect x="464.43" y="190.4" width="2.4" height="2.4" fill="#243166"/>
<rect x="467.55" y="190.4" width="2.4" height="2.4" fill="#243166"/>
<rect x="470.68" y="190.4" width="2.4" height="2.4" fill="#243166"/>
<rect x="473.8" y="190.4" width="2.4" height="2.4" fill="#243166"/>
<rect x="456.4" y="192.4" width="2.8" height="2.8" fill="#243166"/>
<rect x="459.3" y="195.6" width="2.8" height="2.8" fill="#243166"/>
<rect x="447.8" y="201.3" width="2.8" height="2.8" fill="#243166"/>
<rect x="452.4" y="203" width="2.8" height="2.8" fill="#243166"/>
<rect x="456.4" y="204.8" width="2.8" height="2.8" fill="#243166"/>
<rect x="463.3" y="203.6" width="2.8" height="2.8" fill="#243166"/>
<rect x="467.9" y="201.3" width="2.8" height="2.8" fill="#243166"/>
<rect x="472.8" y="199.6" width="2.8" height="2.8" fill="#243166"/>
<rect x="459.3" y="208.8" width="2.8" height="2.8" fill="#243166"/>
<rect x="463.3" y="208.8" width="2.8" height="2.8" fill="#243166"/>
<rect x="463.3" y="199.6" width="2.8" height="2.8" fill="#243166"/>
<rect x="461.4" y="226.8" width="2.8" height="2.8" fill="#243166"/>
<line x1="446.9" y1="190.5" x2="478.5" y2="190.5" stroke="#1b2550" stroke-width="1.4"/>
<line x1="463.5" y1="184" x2="463.5" y2="201.2" stroke="#1b2550" stroke-width="1.1"/>
<line x1="454.9" y1="201.5" x2="468.7" y2="201.5" stroke="#1b2550" stroke-width="1.1"/>
<text transform="translate(357.3,201.4) rotate(-90)" font-size="8.4" text-anchor="middle" fill="#222" stroke="#222" stroke-width="0.45" font-weight="normal" textLength="50.6" lengthAdjust="spacingAndGlyphs">AlphaV (degrees)</text>
<line x1="39.5" y1="278.1" x2="39.5" y2="377.2" stroke="#111" stroke-width="1.1"/>
<line x1="36" y1="280.5" x2="39.2" y2="280.5" stroke="#111" stroke-width="1.1"/>
<text x="33" y="283.7" font-size="7.8" text-anchor="end" fill="#333" font-weight="normal" stroke="#333" stroke-width="0.15">0.8</text>
<line x1="36" y1="299.5" x2="39.2" y2="299.5" stroke="#111" stroke-width="1.1"/>
<text x="33" y="302.45" font-size="7.8" text-anchor="end" fill="#333" font-weight="normal" stroke="#333" stroke-width="0.15">0.6</text>
<line x1="36" y1="318.5" x2="39.2" y2="318.5" stroke="#111" stroke-width="1.1"/>
<text x="33" y="321.2" font-size="7.8" text-anchor="end" fill="#333" font-weight="normal" stroke="#333" stroke-width="0.15">0.4</text>
<line x1="36" y1="337.5" x2="39.2" y2="337.5" stroke="#111" stroke-width="1.1"/>
<text x="33" y="339.95" font-size="7.8" text-anchor="end" fill="#333" font-weight="normal" stroke="#333" stroke-width="0.15">0.2</text>
<line x1="36" y1="355.5" x2="39.2" y2="355.5" stroke="#111" stroke-width="1.1"/>
<text x="33" y="358.7" font-size="7.8" text-anchor="end" fill="#333" font-weight="normal" stroke="#333" stroke-width="0.15">0.0</text>
<line x1="36" y1="374.5" x2="39.2" y2="374.5" stroke="#111" stroke-width="1.1"/>
<text x="33" y="377.45" font-size="7.8" text-anchor="end" fill="#333" font-weight="normal" stroke="#333" stroke-width="0.15">-0.2</text>
<line x1="39.2" y1="355.5" x2="165.5" y2="355.5" stroke="#111" stroke-width="1.1"/>
<line x1="70.5" y1="355.6" x2="70.5" y2="358.6" stroke="#111" stroke-width="1.1"/>
<text x="70.7" y="368.9" font-size="7.8" text-anchor="middle" fill="#333" font-weight="normal" stroke="#333" stroke-width="0.15">200</text>
<line x1="100.5" y1="355.6" x2="100.5" y2="358.6" stroke="#111" stroke-width="1.1"/>
<text x="100.9" y="368.9" font-size="7.8" text-anchor="middle" fill="#333" font-weight="normal" stroke="#333" stroke-width="0.15">400</text>
<line x1="131.5" y1="355.6" x2="131.5" y2="358.6" stroke="#111" stroke-width="1.1"/>
<text x="131.1" y="368.9" font-size="7.8" text-anchor="middle" fill="#333" font-weight="normal" stroke="#333" stroke-width="0.15">600</text>
<line x1="161.5" y1="355.6" x2="161.5" y2="358.6" stroke="#111" stroke-width="1.1"/>
<text x="161.3" y="368.9" font-size="7.8" text-anchor="middle" fill="#333" font-weight="normal" stroke="#333" stroke-width="0.15">800</text>
<path d="M40,355.6 C42,355.57 48.67,355.57 52,355.4 C55.33,355.23 57.18,354.9 60,354.6 C62.82,354.3 67.42,353.77 68.9,353.6" fill="none" stroke="#2c4277" stroke-width="2.6" stroke-linejoin="round" stroke-linecap="round"/>
<path d="M60,354.6 C61.48,354.43 66.52,354.03 68.9,353.6 C71.28,353.17 72.66,352.72 74.3,352 C75.94,351.28 77.27,350.42 78.75,349.3 C80.23,348.18 81.56,346.93 83.2,345.3 C84.84,343.67 86.82,341.52 88.6,339.5 C90.38,337.48 92.27,335.13 93.9,333.2 C95.53,331.27 96.83,329.8 98.4,327.9 C99.97,326 101.37,324.07 103.3,321.8 C105.23,319.53 107.9,316.5 110,314.3 C112.1,312.1 113.9,310.4 115.9,308.6 C117.9,306.8 119.98,305 122,303.5 C124.02,302 126.17,300.63 128,299.6 C129.83,298.57 131.43,297.88 133,297.3 C134.57,296.72 135.4,296.55 137.4,296.1 C139.4,295.65 142.3,295.13 145,294.6 C147.7,294.07 152.17,293.18 153.6,292.9" fill="none" stroke="#2c4277" stroke-width="3.7" stroke-linejoin="round" stroke-linecap="round"/>
<path d="M38.5,355.6 C39.58,355.47 42.58,355.13 45,354.8 C47.42,354.47 51.15,353.97 53,353.6 C54.85,353.23 55.58,352.77 56.1,352.6" fill="none" stroke="#ad123c" stroke-width="3.6" stroke-linejoin="round" stroke-linecap="round"/>
<path d="M56.1,352.6 C56.32,351.9 56.88,349.67 57.4,348.4 C57.92,347.13 58.53,346.82 59.2,345 C59.87,343.18 60.63,340 61.4,337.5 C62.17,335 62.9,332.5 63.8,330 C64.7,327.5 65.78,325 66.8,322.5 C67.82,320 68.75,317.5 69.9,315 C71.05,312.5 72.42,310 73.7,307.5 C74.98,305 76.42,302.15 77.6,300 C78.78,297.85 79.85,296 80.8,294.6 C81.75,293.2 82.43,292.32 83.3,291.6 C84.17,290.88 84.72,290.6 86,290.3 C87.28,290 89.17,289.93 91,289.8 C92.83,289.67 94.87,289.6 97,289.5 C99.13,289.4 102.67,289.25 103.8,289.2" fill="none" stroke="#ad123c" stroke-width="4.2" stroke-linejoin="round" stroke-linecap="round"/>
<path d="M134.7,323.3 L137.2,328.2 L132.3,328.2 Z" fill="#7d1034"/>
<text x="139.6" y="328.8" font-size="7.9" text-anchor="start" fill="#3a3a3a" font-weight="normal" stroke="#3a3a3a" stroke-width="0.15">ND</text>
<circle cx="135" cy="339" r="2.0" fill="#22305a"/>
<text x="139.6" y="341.4" font-size="7.9" text-anchor="start" fill="#3a3a3a" font-weight="normal" stroke="#3a3a3a" stroke-width="0.15">AD</text>
<text x="87.4" y="382.5" font-size="9.0" text-anchor="start" fill="#2a2a2a" font-weight="bold" textLength="30.7" lengthAdjust="spacingAndGlyphs">Time (sec)</text>
<text transform="translate(16.8,328) rotate(-90)" font-size="8.4" text-anchor="middle" fill="#222" stroke="#222" stroke-width="0.45" font-weight="normal" textLength="52.9" lengthAdjust="spacingAndGlyphs">Absorbance (A.U.)</text>
<line x1="213.5" y1="278.1" x2="213.5" y2="367" stroke="#111" stroke-width="1.1"/>
<line x1="210.6" y1="280.5" x2="213.8" y2="280.5" stroke="#111" stroke-width="1.1"/>
<text x="207.7" y="283.3" font-size="7.8" text-anchor="end" fill="#333" font-weight="normal" stroke="#333" stroke-width="0.15">300</text>
<line x1="210.6" y1="309.5" x2="213.8" y2="309.5" stroke="#111" stroke-width="1.1"/>
<text x="207.7" y="311.9" font-size="7.8" text-anchor="end" fill="#333" font-weight="normal" stroke="#333" stroke-width="0.15">200</text>
<line x1="210.6" y1="337.5" x2="213.8" y2="337.5" stroke="#111" stroke-width="1.1"/>
<text x="207.7" y="340.5" font-size="7.8" text-anchor="end" fill="#333" font-weight="normal" stroke="#333" stroke-width="0.15">100</text>
<line x1="210.6" y1="366.5" x2="213.8" y2="366.5" stroke="#111" stroke-width="1.1"/>
<text x="207.7" y="369.1" font-size="7.8" text-anchor="end" fill="#333" font-weight="normal" stroke="#333" stroke-width="0.15">0</text>
<line x1="213.25" y1="366.5" x2="341.8" y2="366.5" stroke="#111" stroke-width="1.1"/>
<line x1="250.5" y1="366.4" x2="250.5" y2="369.4" stroke="#111" stroke-width="1.1"/>
<text x="250.2" y="379.6" font-size="7.7" text-anchor="middle" fill="#222" font-weight="normal" stroke="#222" stroke-width="0.2">ND</text>
<line x1="305.5" y1="366.4" x2="305.5" y2="369.4" stroke="#111" stroke-width="1.1"/>
<text x="305.2" y="379.6" font-size="7.7" text-anchor="middle" fill="#222" font-weight="normal" stroke="#222" stroke-width="0.2">AD</text>
<line x1="251.6" y1="285.5" x2="299.6" y2="285.5" stroke="#111" stroke-width="1.3"/>
<circle cx="274.3" cy="280.9" r="0.95" fill="#111"/>
<circle cx="277.3" cy="280.9" r="0.95" fill="#111"/>
<circle cx="250.8" cy="313.7" r="1.9" fill="#870d35"/>
<circle cx="250.3" cy="319.3" r="1.9" fill="#870d35"/>
<circle cx="247.5" cy="330.5" r="1.9" fill="#870d35"/>
<circle cx="253.1" cy="333.8" r="1.9" fill="#870d35"/>
<circle cx="240.1" cy="339.4" r="1.9" fill="#870d35"/>
<circle cx="244" cy="339.1" r="1.9" fill="#870d35"/>
<circle cx="255.9" cy="338.7" r="1.9" fill="#870d35"/>
<circle cx="260.2" cy="338.7" r="1.9" fill="#870d35"/>
<circle cx="247.5" cy="344" r="1.9" fill="#870d35"/>
<circle cx="252.2" cy="345" r="1.9" fill="#870d35"/>
<circle cx="237.7" cy="346" r="1.9" fill="#870d35"/>
<circle cx="263.4" cy="345" r="1.9" fill="#870d35"/>
<circle cx="242.3" cy="349.2" r="1.9" fill="#870d35"/>
<circle cx="245.1" cy="350.2" r="1.9" fill="#870d35"/>
<circle cx="250.8" cy="349.2" r="1.9" fill="#870d35"/>
<circle cx="255.5" cy="350.2" r="1.9" fill="#870d35"/>
<circle cx="258.3" cy="347.8" r="1.9" fill="#870d35"/>
<circle cx="250.8" cy="354.4" r="1.9" fill="#870d35"/>
<circle cx="248.2" cy="342.2" r="1.9" fill="#870d35"/>
<line x1="232.1" y1="341.5" x2="269" y2="341.5" stroke="#1a1a1a" stroke-width="1.4"/>
<line x1="250.5" y1="338.5" x2="250.5" y2="343.6" stroke="#1a1a1a" stroke-width="1.1"/>
<line x1="245.6" y1="338.5" x2="255.3" y2="338.5" stroke="#1a1a1a" stroke-width="1.1"/>
<line x1="245.6" y1="343.5" x2="255.3" y2="343.5" stroke="#1a1a1a" stroke-width="1.1"/>
<rect x="303.8" y="293.5" width="3.0" height="3.0" fill="#243166"/>
<rect x="303.8" y="299.2" width="3.0" height="3.0" fill="#243166"/>
<rect x="301.1" y="303.7" width="3.0" height="3.0" fill="#243166"/>
<rect x="306.9" y="304.9" width="3.0" height="3.0" fill="#243166"/>
<rect x="288.3" y="313.1" width="3.0" height="3.0" fill="#243166"/>
<rect x="311.5" y="313.1" width="3.0" height="3.0" fill="#243166"/>
<rect x="316.9" y="313.5" width="3.0" height="3.0" fill="#243166"/>
<rect x="293.6" y="316.2" width="3.0" height="3.0" fill="#243166"/>
<rect x="299" y="317.4" width="3.0" height="3.0" fill="#243166"/>
<rect x="306.9" y="316.2" width="3.0" height="3.0" fill="#243166"/>
<rect x="291.3" y="318.9" width="3.0" height="3.0" fill="#243166"/>
<rect x="295.8" y="318.5" width="3.0" height="3.0" fill="#243166"/>
<rect x="319.4" y="318.9" width="3.0" height="3.0" fill="#243166"/>
<rect x="301.5" y="321.5" width="3.0" height="3.0" fill="#243166"/>
<rect x="309.2" y="322.8" width="3.0" height="3.0" fill="#243166"/>
<rect x="314" y="321.5" width="3.0" height="3.0" fill="#243166"/>
<rect x="316.9" y="325.6" width="3.0" height="3.0" fill="#243166"/>
<rect x="291.9" y="326.9" width="3.0" height="3.0" fill="#243166"/>
<rect x="297.2" y="326.4" width="3.0" height="3.0" fill="#243166"/>
<rect x="303.8" y="326.4" width="3.0" height="3.0" fill="#243166"/>
<rect x="308.3" y="326" width="3.0" height="3.0" fill="#243166"/>
<rect x="311.9" y="326.9" width="3.0" height="3.0" fill="#243166"/>
<rect x="300.8" y="330.5" width="3.0" height="3.0" fill="#243166"/>
<rect x="309.2" y="329.6" width="3.0" height="3.0" fill="#243166"/>
<rect x="314" y="333.1" width="3.0" height="3.0" fill="#243166"/>
<rect x="291.3" y="334.6" width="3.0" height="3.0" fill="#243166"/>
<rect x="296.7" y="336.4" width="3.0" height="3.0" fill="#243166"/>
<rect x="303.8" y="336.4" width="3.0" height="3.0" fill="#243166"/>
<rect x="309.2" y="334.6" width="3.0" height="3.0" fill="#243166"/>
<rect x="294" y="339.4" width="3.0" height="3.0" fill="#243166"/>
<rect x="299" y="340.6" width="3.0" height="3.0" fill="#243166"/>
<rect x="303.8" y="341.7" width="3.0" height="3.0" fill="#243166"/>
<rect x="309.2" y="341.7" width="3.0" height="3.0" fill="#243166"/>
<rect x="314" y="340.6" width="3.0" height="3.0" fill="#243166"/>
<rect x="300.8" y="343.9" width="3.0" height="3.0" fill="#243166"/>
<rect x="309.2" y="347.4" width="3.0" height="3.0" fill="#243166"/>
<rect x="296.1" y="351.4" width="3.0" height="3.0" fill="#243166"/>
<rect x="300.8" y="354.2" width="3.0" height="3.0" fill="#243166"/>
<rect x="306.5" y="351.9" width="3.0" height="3.0" fill="#243166"/>
<rect x="311.9" y="350.6" width="3.0" height="3.0" fill="#243166"/>
<line x1="286.9" y1="329.5" x2="324.4" y2="329.5" stroke="#1b2550" stroke-width="1.4"/>
<line x1="305.5" y1="326.8" x2="305.5" y2="332" stroke="#1b2550" stroke-width="1.1"/>
<line x1="300" y1="326.5" x2="310.5" y2="326.5" stroke="#1b2550" stroke-width="1.1"/>
<line x1="300" y1="332.5" x2="310.5" y2="332.5" stroke="#1b2550" stroke-width="1.1"/>
<text transform="translate(187,322.2) rotate(-90)" font-size="8.4" text-anchor="middle" fill="#222" stroke="#222" stroke-width="0.45" font-weight="normal" textLength="62.8" lengthAdjust="spacingAndGlyphs">Clotting start time (s)</text>
<line x1="382.5" y1="276.7" x2="382.5" y2="366.9" stroke="#111" stroke-width="1.1"/>
<line x1="379.6" y1="279.5" x2="382.8" y2="279.5" stroke="#111" stroke-width="1.1"/>
<text x="376.7" y="282.74" font-size="7.8" text-anchor="end" fill="#333" font-weight="normal" stroke="#333" stroke-width="0.15">800</text>
<line x1="379.6" y1="301.5" x2="382.8" y2="301.5" stroke="#111" stroke-width="1.1"/>
<text x="376.7" y="304.28" font-size="7.8" text-anchor="end" fill="#333" font-weight="normal" stroke="#333" stroke-width="0.15">600</text>
<line x1="379.6" y1="323.5" x2="382.8" y2="323.5" stroke="#111" stroke-width="1.1"/>
<text x="376.7" y="325.82" font-size="7.8" text-anchor="end" fill="#333" font-weight="normal" stroke="#333" stroke-width="0.15">400</text>
<line x1="379.6" y1="344.5" x2="382.8" y2="344.5" stroke="#111" stroke-width="1.1"/>
<text x="376.7" y="347.36" font-size="7.8" text-anchor="end" fill="#333" font-weight="normal" stroke="#333" stroke-width="0.15">200</text>
<line x1="379.6" y1="366.5" x2="382.8" y2="366.5" stroke="#111" stroke-width="1.1"/>
<text x="376.7" y="368.9" font-size="7.8" text-anchor="end" fill="#333" font-weight="normal" stroke="#333" stroke-width="0.15">0</text>
<line x1="382.25" y1="366.5" x2="512.6" y2="366.5" stroke="#111" stroke-width="1.1"/>
<line x1="420.5" y1="366.3" x2="420.5" y2="369.3" stroke="#111" stroke-width="1.1"/>
<text x="420.4" y="379.3" font-size="7.7" text-anchor="middle" fill="#222" font-weight="normal" stroke="#222" stroke-width="0.2">ND</text>
<line x1="475.5" y1="366.3" x2="475.5" y2="369.3" stroke="#111" stroke-width="1.1"/>
<text x="475.7" y="379.3" font-size="7.7" text-anchor="middle" fill="#222" font-weight="normal" stroke="#222" stroke-width="0.2">AD</text>
<line x1="418.7" y1="279.5" x2="473" y2="279.5" stroke="#111" stroke-width="1.3"/>
<circle cx="442.8" cy="274.8" r="0.95" fill="#111"/>
<circle cx="445.8" cy="274.8" r="0.95" fill="#111"/>
<circle cx="448.8" cy="274.8" r="0.95" fill="#111"/>
<circle cx="419.85" cy="289.75" r="2.0" fill="#870d35"/>
<circle cx="414.4" cy="314.1" r="2.0" fill="#870d35"/>
<circle cx="419.9" cy="314.8" r="2.0" fill="#870d35"/>
<circle cx="425.3" cy="312.4" r="2.0" fill="#870d35"/>
<circle cx="419.7" cy="326.9" r="2.0" fill="#870d35"/>
<circle cx="417.3" cy="330.5" r="2.0" fill="#870d35"/>
<circle cx="425.3" cy="332.5" r="2.0" fill="#870d35"/>
<circle cx="422.4" cy="336.6" r="2.0" fill="#870d35"/>
<circle cx="417.3" cy="340.7" r="2.0" fill="#870d35"/>
<circle cx="417.3" cy="347.5" r="2.0" fill="#870d35"/>
<circle cx="422.8" cy="348" r="2.0" fill="#870d35"/>
<circle cx="404.7" cy="350.6" r="2.0" fill="#870d35"/>
<circle cx="409.5" cy="351.8" r="2.0" fill="#870d35"/>
<circle cx="414.9" cy="353.5" r="2.0" fill="#870d35"/>
<circle cx="419.9" cy="355.2" r="2.0" fill="#870d35"/>
<circle cx="425.3" cy="353.5" r="2.0" fill="#870d35"/>
<circle cx="430.8" cy="352.8" r="2.0" fill="#870d35"/>
<circle cx="435.7" cy="351.1" r="2.0" fill="#870d35"/>
<line x1="401.8" y1="336.5" x2="438.6" y2="336.5" stroke="#1a1a1a" stroke-width="1.4"/>
<line x1="420.5" y1="332.5" x2="420.5" y2="341.4" stroke="#1a1a1a" stroke-width="1.1"/>
<line x1="411.5" y1="332.5" x2="428.9" y2="332.5" stroke="#1a1a1a" stroke-width="1.1"/>
<line x1="411.5" y1="341.5" x2="428.9" y2="341.5" stroke="#1a1a1a" stroke-width="1.1"/>
<rect x="474.25" y="321.35" width="2.9" height="2.9" fill="#243166"/>
<rect x="465.85" y="330.05" width="2.9" height="2.9" fill="#243166"/>
<rect x="471.55" y="332.75" width="2.9" height="2.9" fill="#243166"/>
<rect x="476.95" y="332.15" width="2.9" height="2.9" fill="#243166"/>
<rect x="482.05" y="329.75" width="2.9" height="2.9" fill="#243166"/>
<rect x="468.85" y="338.95" width="2.9" height="2.9" fill="#243166"/>
<rect x="473.95" y="341.25" width="2.9" height="2.9" fill="#243166"/>
<rect x="479.35" y="339.25" width="2.9" height="2.9" fill="#243166"/>
<rect x="482.05" y="344.65" width="2.9" height="2.9" fill="#243166"/>
<rect x="466.15" y="346.65" width="2.9" height="2.9" fill="#243166"/>
<rect x="476.95" y="347.35" width="2.9" height="2.9" fill="#243166"/>
<path d="M456.4,350.0 Q475.8,351.4 495.2,350.0 L495.0,353.2 Q494,354.3 491,354.6 Q476,357.6 461,354.6 Q457.4,354.3 456.6,353.2 Z" fill="#25367a"/>
<path d="M457.4,356.0 Q460,356.2 462,356.6 Q476,360.2 490,356.6 Q492,356.2 494.4,356.0 L494.2,359.8 Q492,361.8 486,362.6 Q476,364.6 466,362.6 Q460,361.8 457.6,359.8 Z" fill="#2a418a"/>
<line x1="457.5" y1="351.5" x2="494" y2="351.5" stroke="#1b2550" stroke-width="1.4"/>
<text transform="translate(356,321.4) rotate(-90)" font-size="8.4" text-anchor="middle" fill="#222" stroke="#222" stroke-width="0.45" font-weight="normal" textLength="47.2" lengthAdjust="spacingAndGlyphs">Vmax (mU/min)</text>
<rect x="1.5" y="1.5" width="517" height="389" fill="none" stroke="#999" stroke-width="1"/>
<rect x="0.5" y="0.5" width="519" height="391" fill="none" stroke="#000" stroke-width="1"/>
</svg></div></body></html>
